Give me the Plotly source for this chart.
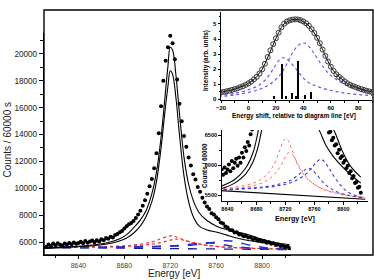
import plotly.graph_objects as go

# ---------------- data ----------------
MAIN_E = list(range(8612, 8826, 2))
MAIN_COUNTS = [5650, 5820, 5700, 5880, 5760, 5900, 5790, 5740, 5880, 5810,
               5930, 5840, 5960, 5870, 5930, 6010, 5900, 6070, 5950, 6040,
               6110, 5990, 6130, 6040, 6210, 6130, 6300, 6240, 6390, 6330,
               6520, 6600, 6720, 6820, 7010, 7180, 7330, 7420, 7560, 7780,
               8050, 8330, 8700, 9100, 9600, 10150, 10700, 11500, 12600, 14100,
               16100, 18000, 19500, 20500, 21350, 20800, 19600, 18100, 16300, 15000,
               13900, 13100, 12300, 11700, 11050, 10650, 10100, 9750, 9300, 8950,
               8650, 8450, 8150, 8050, 7850, 7700, 7450, 7380, 7150, 7080,
               6900, 6880, 6700, 6720, 6550, 6560, 6420, 6460, 6330, 6350,
               6200, 6260, 6120, 6150, 6040, 6080, 5950, 5990, 5870, 5900,
               5780, 5820, 5700, 5720, 5620, 5640, 5540]

FIT_E = [8610, 8630, 8650, 8665, 8675, 8682, 8688, 8694, 8699, 8704, 8708, 8712, 8715,
         8718, 8720, 8722, 8725, 8728, 8732, 8736, 8740, 8745, 8752, 8760, 8768, 8776,
         8787, 8798, 8810, 8824]
FIT_A = [5560, 5640, 5760, 5950, 6200, 6550, 7050, 7650, 8350, 9600, 11200, 13800, 16400,
         19100, 20500, 20300, 18400, 15600, 12300, 10300, 9100, 8200, 7600, 7200, 6950, 6780,
         6583, 6250, 5980, 5800]
FIT_B = [5540, 5600, 5700, 5850, 6050, 6300, 6650, 7200, 7900, 9000, 10500, 13000, 15400,
         17600, 18750, 18500, 16700, 14000, 10900, 9000, 7900, 7200, 6900, 6750, 6550, 6330,
         6130, 5980, 5840, 5700]

COMP_E = [8610, 8650, 8680, 8695, 8705, 8712, 8718, 8721, 8724, 8730, 8738, 8748, 8752,
          8756, 8762, 8768, 8773, 8780, 8790, 8805, 8830]
RED_1 = [5590, 5630, 5720, 5850, 6030, 6250, 6420, 6450, 6410, 6220, 5980, 5800, 5750,
         5710, 5660, 5620, 5600, 5570, 5540, 5500, 5460]
RED_2 = [5585, 5610, 5670, 5750, 5850, 5960, 6090, 6160, 6210, 6170, 6000, 5820, 5760,
         5720, 5660, 5620, 5590, 5560, 5530, 5490, 5450]
BLUE_1 = [5580, 5600, 5625, 5645, 5665, 5685, 5705, 5715, 5730, 5765, 5840, 5930, 5950,
          5930, 5860, 5770, 5700, 5630, 5560, 5500, 5450]
BLUE_2 = [5575, 5595, 5615, 5630, 5645, 5660, 5675, 5685, 5695, 5720, 5765, 5850, 5895,
          5950, 6040, 6100, 6070, 5950, 5760, 5560, 5440]
BASE_E = [8610, 8830]
BASE = [5590, 5430]

SHIFT = list(range(-20, 92, 2))
INTENSITY = [0.45, 0.48, 0.52, 0.56, 0.61, 0.66, 0.72, 0.79, 0.86, 0.95,
             1.05, 1.17, 1.31, 1.48, 1.70, 1.98, 2.35, 2.80, 3.25, 3.66,
             4.05, 4.42, 4.78, 5.02, 5.16, 5.24, 5.29, 5.31, 5.30, 5.25,
             5.17, 5.05, 4.88, 4.66, 4.40, 4.08, 3.72, 3.30, 2.88, 2.50,
             2.16, 1.88, 1.65, 1.48, 1.33, 1.18, 1.05, 0.95, 0.87, 0.80,
             0.73, 0.67, 0.61, 0.56, 0.51, 0.47]
COMP_SHIFT = [-22, -10, 0, 8, 13, 18, 22, 25, 28, 32, 36, 40, 43, 47, 52, 58, 64, 72, 80, 92]
COMP_LOW = [0.22, 0.38, 0.62, 0.95, 1.35, 2.0, 2.55, 2.75, 2.65, 2.3, 1.85, 1.4, 1.15, 0.95,
            0.78, 0.62, 0.5, 0.38, 0.3, 0.22]
COMP_HIGH = [0.15, 0.28, 0.45, 0.65, 0.85, 1.15, 1.5, 1.85, 2.35, 3.05, 3.55, 3.75, 3.6, 3.15,
             2.45, 1.75, 1.3, 0.9, 0.65, 0.45]
LINE_POS = [19, 24.5, 27.5, 32, 35, 36.5, 41.5, 45.5]
LINE_INT = [0.22, 2.35, 0.2, 0.4, 0.2, 2.55, 0.3, 0.48]

FONT = "Liberation Sans, Arial, sans-serif"

fig = go.Figure()

# ---------------- main panel ----------------
fig.add_trace(go.Scatter(x=BASE_E, y=BASE, mode="lines", xaxis="x", yaxis="y",
                         line=dict(color="#1a1a80", width=1.3, dash="dash")))
for vals in (RED_1, RED_2):
    fig.add_trace(go.Scatter(x=COMP_E, y=vals, mode="lines", xaxis="x", yaxis="y",
                             line=dict(color="#ff2a2a", width=1.2, dash="dot", shape="spline")))
for vals in (BLUE_1, BLUE_2):
    fig.add_trace(go.Scatter(x=COMP_E, y=vals, mode="lines", xaxis="x", yaxis="y",
                             line=dict(color="#2a2ad0", width=1.5, dash="dash", shape="spline")))
fig.add_trace(go.Scatter(x=MAIN_E, y=MAIN_COUNTS, mode="markers", xaxis="x", yaxis="y",
                         marker=dict(color="black", size=4)))
for vals in (FIT_A, FIT_B):
    fig.add_trace(go.Scatter(x=FIT_E, y=vals, mode="lines", xaxis="x", yaxis="y",
                             line=dict(color="black", width=1.1, shape="spline")))

# ---------------- inset 1 ----------------
fig.add_trace(go.Bar(x=LINE_POS, y=LINE_INT, xaxis="x2", yaxis="y2", width=1.3,
                     marker=dict(color="black", line=dict(width=0))))
for vals in (COMP_LOW, COMP_HIGH):
    fig.add_trace(go.Scatter(x=COMP_SHIFT, y=vals, mode="lines", xaxis="x2", yaxis="y2",
                             line=dict(color="#5a4cf0", width=1.1, dash="dot", shape="spline")))
fig.add_trace(go.Scatter(x=SHIFT, y=INTENSITY, mode="lines+markers", xaxis="x2", yaxis="y2",
                         line=dict(color="black", width=1),
                         marker=dict(symbol="circle-open", size=5, color="#333",
                                     line=dict(width=1))))

# ---------------- inset 2 ----------------
fig.add_trace(go.Scatter(x=BASE_E, y=BASE, mode="lines", xaxis="x3", yaxis="y3",
                         line=dict(color="black", width=1.1)))
for vals in (RED_1, RED_2):
    fig.add_trace(go.Scatter(x=COMP_E, y=vals, mode="lines", xaxis="x3", yaxis="y3",
                             line=dict(color="#ff6a6a", width=1, dash="dot", shape="spline")))
for vals in (BLUE_1, BLUE_2):
    fig.add_trace(go.Scatter(x=COMP_E, y=vals, mode="lines", xaxis="x3", yaxis="y3",
                             line=dict(color="#3a3ad8", width=1.1, dash="dot", shape="spline")))
fig.add_trace(go.Scatter(x=MAIN_E, y=MAIN_COUNTS, mode="markers", xaxis="x3", yaxis="y3",
                         marker=dict(color="black", size=4)))
for vals in (FIT_A, FIT_B):
    fig.add_trace(go.Scatter(x=FIT_E, y=vals, mode="lines", xaxis="x3", yaxis="y3",
                             line=dict(color="black", width=1.1, shape="spline")))

ax_common = dict(showgrid=False, zeroline=False, showline=True, linecolor="black",
                 ticks="outside", tickcolor="black")

fig.update_layout(
    width=374, height=280, showlegend=False,
    margin=dict(l=44, r=1, t=10, b=25),
    paper_bgcolor="white", plot_bgcolor="rgba(0,0,0,0)",
    font=dict(family=FONT, color="black"),
    bargap=0,
    xaxis=dict(ax_common, domain=[0, 0.75], range=[8610, 8825], tickvals=[8640, 8680, 8720, 8760, 8800],
               ticklen=3, linewidth=1.4, tickfont=dict(size=7, color="#444"),
               minor=dict(ticks="outside", dtick=40, tick0=8620, ticklen=2, tickcolor="black")),
    yaxis=dict(ax_common, domain=[0, 0.906], range=[5032, 21560], dtick=2000, tick0=6000,
               tickformat="d",
               ticklen=4, linewidth=1.4, tickfont=dict(size=8.2, color="#222"),
               minor=dict(ticks="outside", dtick=1000, ticklen=2.5, tickcolor="black")),
    xaxis2=dict(ax_common, domain=[0.538, 0.997], range=[-20, 90], anchor="y2",
                dtick=20, tick0=-20, ticklen=2, linewidth=1,
                tickfont=dict(size=6, family=FONT, weight="bold"),
                minor=dict(ticks="outside", dtick=10, ticklen=1.5, tickcolor="black")),
    yaxis2=dict(ax_common, domain=[0.632, 0.992], range=[-0.07, 5.8], anchor="x2",
                dtick=1, ticklen=2.5, linewidth=1,
                tickfont=dict(size=6, family=FONT, weight="bold"),
                minor=dict(ticks="outside", dtick=0.5, ticklen=1.5, tickcolor="black")),
    xaxis3=dict(ax_common, domain=[0.540, 0.985], range=[8632, 8834], anchor="y3",
                tickvals=[8640, 8680, 8720, 8760, 8800], ticklen=2.5, linewidth=1,
                tickfont=dict(size=5.5, family=FONT, weight="bold"),
                minor=dict(ticks="outside", dtick=40, tick0=8660, ticklen=1.5, tickcolor="black")),
    yaxis3=dict(ax_common, domain=[0.2204, 0.5102], range=[5400, 6590], anchor="x3",
                tickvals=[5500, 6000, 6500], ticklen=2.5, linewidth=1,
                tickfont=dict(size=5.5, family=FONT, weight="bold"),
                minor=dict(ticks="outside", dtick=250, tick0=5500, ticklen=1.5, tickcolor="black")),
    shapes=[dict(type="rect", xref="paper", yref="paper", x0=0, x1=1, y0=0, y1=1,
                 line=dict(color="black", width=1.4))],
    annotations=[
        dict(text="Energy [eV]", xref="paper", yref="paper", x=0.394, y=-0.077,
             showarrow=False, font=dict(size=10, color="#222"), xanchor="center", yanchor="middle"),
        dict(text="Counts / 60000 s", xref="paper", yref="paper", x=-0.111, y=0.473,
             showarrow=False, textangle=-90, font=dict(size=10, color="#222"),
             xanchor="center", yanchor="middle"),
        dict(text="<b>Energy shift, relative to diagram line [eV]</b>", xref="paper", yref="paper",
             x=0.760, y=0.566, showarrow=False, font=dict(size=6.4),
             xanchor="center", yanchor="middle"),
        dict(text="<b>Intensity (arb. units)</b>", xref="paper", yref="paper",
             x=0.492, y=0.795, showarrow=False, textangle=-90, font=dict(size=6.4),
             xanchor="center", yanchor="middle"),
        dict(text="<b>Energy [eV]</b>", xref="paper", yref="paper",
             x=0.763, y=0.151, showarrow=False, font=dict(size=7.2),
             xanchor="center", yanchor="middle"),
        dict(text="<b>Counts / 60000</b>", xref="paper", yref="paper",
             x=0.486, y=0.367, showarrow=False, textangle=-90, font=dict(size=6.3),
             xanchor="center", yanchor="middle"),
    ],
)

fig.write_html("out.html")
